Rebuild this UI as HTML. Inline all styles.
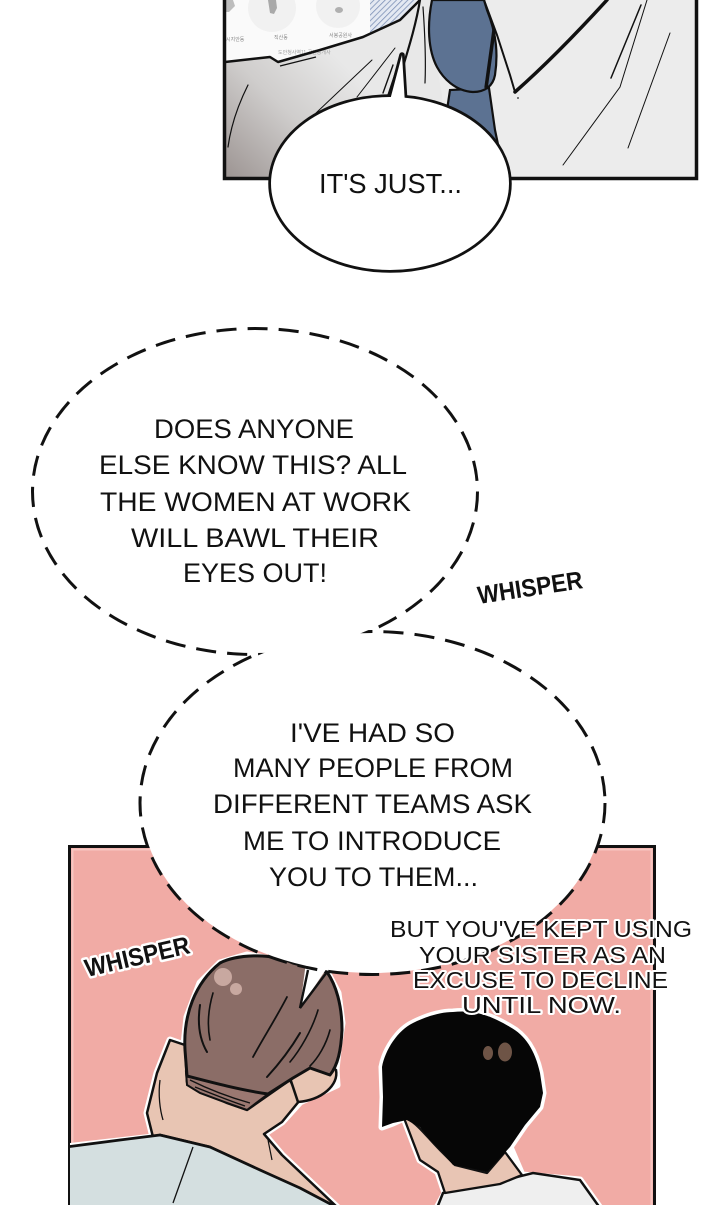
<!DOCTYPE html>
<html><head><meta charset="utf-8">
<style>
html,body{margin:0;padding:0;background:#fff;}
svg{display:block;}
text{font-family:"Liberation Sans",sans-serif;}
</style></head><body>
<svg width="720" height="1205" viewBox="0 0 720 1205" xmlns="http://www.w3.org/2000/svg">
<defs>
 <linearGradient id="armg" gradientUnits="userSpaceOnUse" x1="225" y1="178" x2="340" y2="60">
  <stop offset="0" stop-color="#9c9492"/>
  <stop offset="0.55" stop-color="#cfcdcc"/>
  <stop offset="1" stop-color="#e8e8e8"/>
 </linearGradient>
 <pattern id="hatch" width="4" height="4" patternUnits="userSpaceOnUse" patternTransform="rotate(45)">
  <rect width="4" height="4" fill="#e4e9f2"/>
  <line x1="0" y1="0" x2="0" y2="4" stroke="#7d91b6" stroke-width="1.6"/>
 </pattern>
 <clipPath id="topclip"><rect x="225" y="0" width="471" height="178"/></clipPath>
 <clipPath id="botclip"><rect x="70" y="847" width="584" height="360"/></clipPath>
</defs>

<!-- ============ TOP PANEL ============ -->
<g clip-path="url(#topclip)">
 <rect x="225" y="0" width="471" height="178" fill="#ececec"/>
 <path d="M225,62 L270,57 L278,62 L320,50 L363,37 L400,20 L418,0 L432,0 L428,40 L437,67 L442,95 L438,178 L225,178 Z" fill="url(#armg)"/>
 <path d="M225,0 L418,0 L400,20 L363,37 L320,50 L278,62 L270,57 L225,62 Z" fill="#fafafa"/>
 <circle cx="272" cy="8" r="24" fill="#f1f1f1"/>
 <circle cx="338" cy="6" r="22" fill="#f1f1f1"/>
 <path d="M268,0 L276,0 L277,8 L274,14 L270,13 Z" fill="#a9a9a9"/>
 <ellipse cx="339" cy="10" rx="4" ry="3" fill="#b0b0b0"/>
 <path d="M225,0 L233,0 L235,6 L229,12 L225,12 Z" fill="#bdbdbd"/>
 <text x="226" y="41" font-size="5" fill="#8a8a8a" font-family="'Liberation Sans','Noto Sans CJK KR',sans-serif">시지안동</text>
 <text x="274" y="39" font-size="5" fill="#8a8a8a" font-family="'Liberation Sans','Noto Sans CJK KR',sans-serif">직산동</text>
 <text x="329" y="37" font-size="5" fill="#8a8a8a" font-family="'Liberation Sans','Noto Sans CJK KR',sans-serif">서봉공원사</text>
 <text x="278" y="54" font-size="5" fill="#a0a0a0" font-family="'Liberation Sans','Noto Sans CJK KR',sans-serif">도안청사역11 공인중개사</text>
 <path d="M370,0 L417,0 L400,20 L370,34 Z" fill="url(#hatch)"/>
 <polyline points="225,62 270,57 278,62 320,50 363,37 400,20 420,0" fill="none" stroke="#111" stroke-width="2.5" stroke-linejoin="round"/>
 <path d="M280,66 L316,57" stroke="#111" stroke-width="1.4" fill="none"/>
 <g stroke="#111" fill="none" stroke-linecap="round">
  <path d="M248,85 C238,105 231,125 228,147" stroke-width="1.2"/>
  <path d="M372,60 L316,113" stroke-width="1"/>
  <path d="M395,48 L357,97" stroke-width="1"/>
  <path d="M393,65 L383,93" stroke-width="1.4"/>
  <path d="M399,62 L388,95" stroke-width="1.4"/>
  <path d="M420,0 C416,25 408,50 402,70" stroke-width="2.2"/>
  <path d="M423,7 C425,35 426,60 425,83" stroke-width="1.2"/>
 </g>
 <path d="M450,90 L447,110 L444,178 L505,178 L495,130 L489,88 Z" fill="#5c7292" stroke="#111" stroke-width="2.2"/>
 <path d="M432,0 C427,25 428,50 437,67 C443,78 455,91 473,92 C485,92 493,86 495,75 C498,55 497,35 487,10 L484,0 Z" fill="#5c7292" stroke="#111" stroke-width="2.2"/>
 <path d="M494,30 L486,88" stroke="#111" stroke-width="3.5" fill="none"/>
 <g stroke="#111" fill="none" stroke-linecap="round">
  <path d="M484,0 L497,35 L510,75 L515,92" stroke-width="2"/>
  <path d="M515,92 C540,70 575,35 607,0" stroke-width="3.5"/>
  <path d="M647,0 L620,87 L563,165" stroke-width="1"/>
  <path d="M641,5 L611,78" stroke-width="1.5"/>
  <path d="M670,33 L628,148" stroke-width="1"/>
 </g>
 <circle cx="518" cy="98" r="1" fill="#555"/>
</g>
<rect x="224.5" y="-10" width="472" height="188.5" fill="none" stroke="#111" stroke-width="3.5"/>

<!-- IT'S JUST bubble -->
<g stroke="#111" stroke-width="5.5" fill="none" stroke-linejoin="round">
 <path d="M389,104 L402,55 L405,104"/>
 <ellipse cx="390" cy="183.5" rx="119" ry="86.5"/>
</g>
<path d="M389,104 L402,55 L405,104 Z" fill="#fff"/>
<ellipse cx="390" cy="183.5" rx="119" ry="86.5" fill="#fff"/>
<text x="319" y="193" font-size="28" textLength="143" lengthAdjust="spacingAndGlyphs" fill="#111">IT'S JUST...</text>

<!-- ============ BOTTOM PANEL ============ -->
<rect x="69.5" y="846.5" width="585" height="400" fill="#f1aba5" stroke="#111" stroke-width="3"/>
<rect x="72.5" y="849.5" width="579" height="400" fill="none" stroke="#f6c6c1" stroke-width="2"/>

<g clip-path="url(#botclip)">
 <!-- man 1 white outline -->
 <path d="M66,1147 L153,1137 L147,1113 L157,1073 L170,1040 L184,1045 L187,1017 L200,983 L220,963 L247,955 L293,963 L327,972 L338,993 L342,1023 L338,1050 L336,1070 L337,1085 L300,1102 L282,1122 L264,1134 L282,1155 L338,1208 L66,1208 Z" fill="#fff" stroke="#fff" stroke-width="7" stroke-linejoin="round"/>
 <!-- skin -->
 <path d="M153,1137 L147,1113 L157,1073 L170,1040 L185,1045 L187,1082 L227,1103 L247,1110 L290,1080 L300,1100 L282,1122 L264,1134 L282,1155 L338,1208 L300,1190 L260,1170 L210,1147 L160,1135 Z" fill="#e8c5b3" stroke="#111" stroke-width="2.5" stroke-linejoin="round"/>
 <!-- shirt -->
 <path d="M66,1147 L120,1140 L160,1135 L210,1147 L260,1170 L300,1188 L338,1208 L66,1208 Z" fill="#d4dfe0" stroke="#111" stroke-width="2.8" stroke-linejoin="round"/>
 <path d="M193,1147 L173,1203" stroke="#111" stroke-width="1.3" fill="none"/>
 <path d="M290,1078 C300,1062 325,1060 336,1070 C339,1085 322,1100 298,1102 Z" fill="#e8c5b3" stroke="#111" stroke-width="2.5"/>
 <path d="M160,1080 C158,1095 160,1110 163,1120" stroke="#111" stroke-width="1.3" fill="none"/>
 <path d="M268,1140 L272,1160" stroke="#111" stroke-width="1.2" fill="none"/>
 <!-- nape -->
 <path d="M186,1072 C210,1082 240,1090 268,1094 L247,1110 L227,1103 L200,1093 L187,1085 Z" fill="#9b7871" stroke="#111" stroke-width="2"/>
 <path d="M190,1080 C210,1090 232,1098 250,1103 M195,1087 C215,1095 230,1101 245,1106" stroke="#111" stroke-width="1.4" fill="none"/>
 <!-- hair -->
 <path d="M187,1076 L185,1050 C183,1015 195,983 220,963 C235,955 270,952 293,963 L327,972 C336,985 342,1005 342,1030 C341,1050 338,1065 330,1075 L310,1068 L293,1078 L268,1094 C240,1090 210,1082 187,1076 Z" fill="#8b6d67" stroke="#111" stroke-width="3" stroke-linejoin="round"/>
 <circle cx="223" cy="977" r="9" fill="#c8a8a0"/>
 <circle cx="236" cy="989" r="6" fill="#c8a8a0"/>
 <g stroke="#111" fill="none" stroke-linecap="round">
  <path d="M200,1005 C197,1025 200,1040 207,1052" stroke-width="2"/>
  <path d="M213,993 C208,1010 207,1025 210,1040" stroke-width="1.6"/>
  <path d="M287,997 C275,1020 262,1040 253,1057" stroke-width="1.8"/>
  <path d="M300,1033 C290,1050 278,1065 267,1077" stroke-width="2"/>
  <path d="M318,1010 C312,1030 300,1050 290,1062" stroke-width="1.6"/>
  <path d="M330,1030 C326,1045 318,1058 310,1066" stroke-width="1.6"/>
 </g>
 <!-- bubble tail spike -->
 <path d="M306,962 L300,1008 L329,965 Z" fill="#fff"/>
 <path d="M308,970 L300,1008 L327,972" stroke="#111" stroke-width="2.4" fill="none" stroke-linejoin="miter"/>

 <!-- man 2 white outline -->
 <path d="M453,1012 C470,1010 487,1013 510,1027 C525,1035 535,1050 540,1073 L543,1093 L540,1107 L525,1125 L510,1147 L522,1175 L580,1180 L600,1208 L437,1208 L445,1193 L438,1172 L420,1160 L404,1118 L393,1123 L382,1127 L383,1097 L382,1067 C385,1050 398,1030 413,1023 C425,1017 440,1012 453,1012 Z" fill="#fff" stroke="#fff" stroke-width="7" stroke-linejoin="round"/>
 <path d="M437,1208 L443,1193 L493,1183 L533,1173 L580,1180 L600,1208 Z" fill="#efefef" stroke="#111" stroke-width="2.5"/>
 <path d="M404,1118 C415,1120 425,1135 440,1150 L455,1165 L487,1173 L505,1152 L522,1175 L500,1184 L445,1193 L438,1172 L420,1160 Z" fill="#e8c5b4" stroke="#111" stroke-width="2.3" stroke-linejoin="round"/>
 <path d="M453,1012 C470,1010 487,1013 510,1027 C525,1035 535,1050 540,1073 L543,1093 L540,1107 L525,1125 L510,1147 L487,1172 L470,1168 L453,1165 L443,1153 L430,1140 L420,1127 L407,1120 L393,1123 L382,1127 L383,1097 L382,1067 C385,1050 398,1030 413,1023 C425,1017 440,1012 453,1012 Z" fill="#060606"/>
 <ellipse cx="488" cy="1053" rx="5" ry="7" fill="#6e5446"/>
 <ellipse cx="505" cy="1052" rx="7" ry="9.5" fill="#6e5446"/>
</g>

<!-- ============ DASHED BUBBLES ============ -->
<g fill="none" stroke="#111" stroke-width="6" stroke-dasharray="20 11">
 <ellipse cx="255" cy="491.5" rx="221" ry="161.5"/>
 <ellipse cx="372.5" cy="803" rx="231" ry="170"/>
</g>
<ellipse cx="255" cy="491.5" rx="221" ry="161.5" fill="#fff"/>
<ellipse cx="372.5" cy="803" rx="231" ry="170" fill="#fff"/>

<g fill="#111" font-size="27">
 <text x="154" y="438" textLength="200" lengthAdjust="spacingAndGlyphs">DOES ANYONE</text>
 <text x="99" y="474" textLength="308" lengthAdjust="spacingAndGlyphs">ELSE KNOW THIS? ALL</text>
 <text x="100" y="511" textLength="311" lengthAdjust="spacingAndGlyphs">THE WOMEN AT WORK</text>
 <text x="131" y="547" textLength="248" lengthAdjust="spacingAndGlyphs">WILL BAWL THEIR</text>
 <text x="183" y="582" textLength="144" lengthAdjust="spacingAndGlyphs">EYES OUT!</text>

 <text x="290" y="742" textLength="165" lengthAdjust="spacingAndGlyphs">I'VE HAD SO</text>
 <text x="233" y="777" textLength="280" lengthAdjust="spacingAndGlyphs">MANY PEOPLE FROM</text>
 <text x="213" y="813" textLength="319" lengthAdjust="spacingAndGlyphs">DIFFERENT TEAMS ASK</text>
 <text x="243" y="850" textLength="258" lengthAdjust="spacingAndGlyphs">ME TO INTRODUCE</text>
 <text x="269" y="886" textLength="209" lengthAdjust="spacingAndGlyphs">YOU TO THEM...</text>
</g>

<text x="0" y="0" font-size="25" font-weight="bold" fill="#111" textLength="106" lengthAdjust="spacingAndGlyphs" transform="translate(479,604) rotate(-8.7)">WHISPER</text>

<text x="0" y="0" font-size="25" font-weight="bold" fill="#111" stroke="#fff" stroke-width="5" paint-order="stroke" stroke-linejoin="round" textLength="107" lengthAdjust="spacingAndGlyphs" transform="translate(87,977) rotate(-13)">WHISPER</text>

<g font-size="23" fill="#111" stroke="#fff" stroke-width="4" paint-order="stroke" stroke-linejoin="round">
 <text x="390" y="937" textLength="302" lengthAdjust="spacingAndGlyphs">BUT YOU'VE KEPT USING</text>
 <text x="419" y="963" textLength="247" lengthAdjust="spacingAndGlyphs">YOUR SISTER AS AN</text>
 <text x="413" y="988" textLength="255" lengthAdjust="spacingAndGlyphs">EXCUSE TO DECLINE</text>
 <text x="462" y="1013" textLength="159" lengthAdjust="spacingAndGlyphs">UNTIL NOW.</text>
</g>
</svg>
</body></html>
